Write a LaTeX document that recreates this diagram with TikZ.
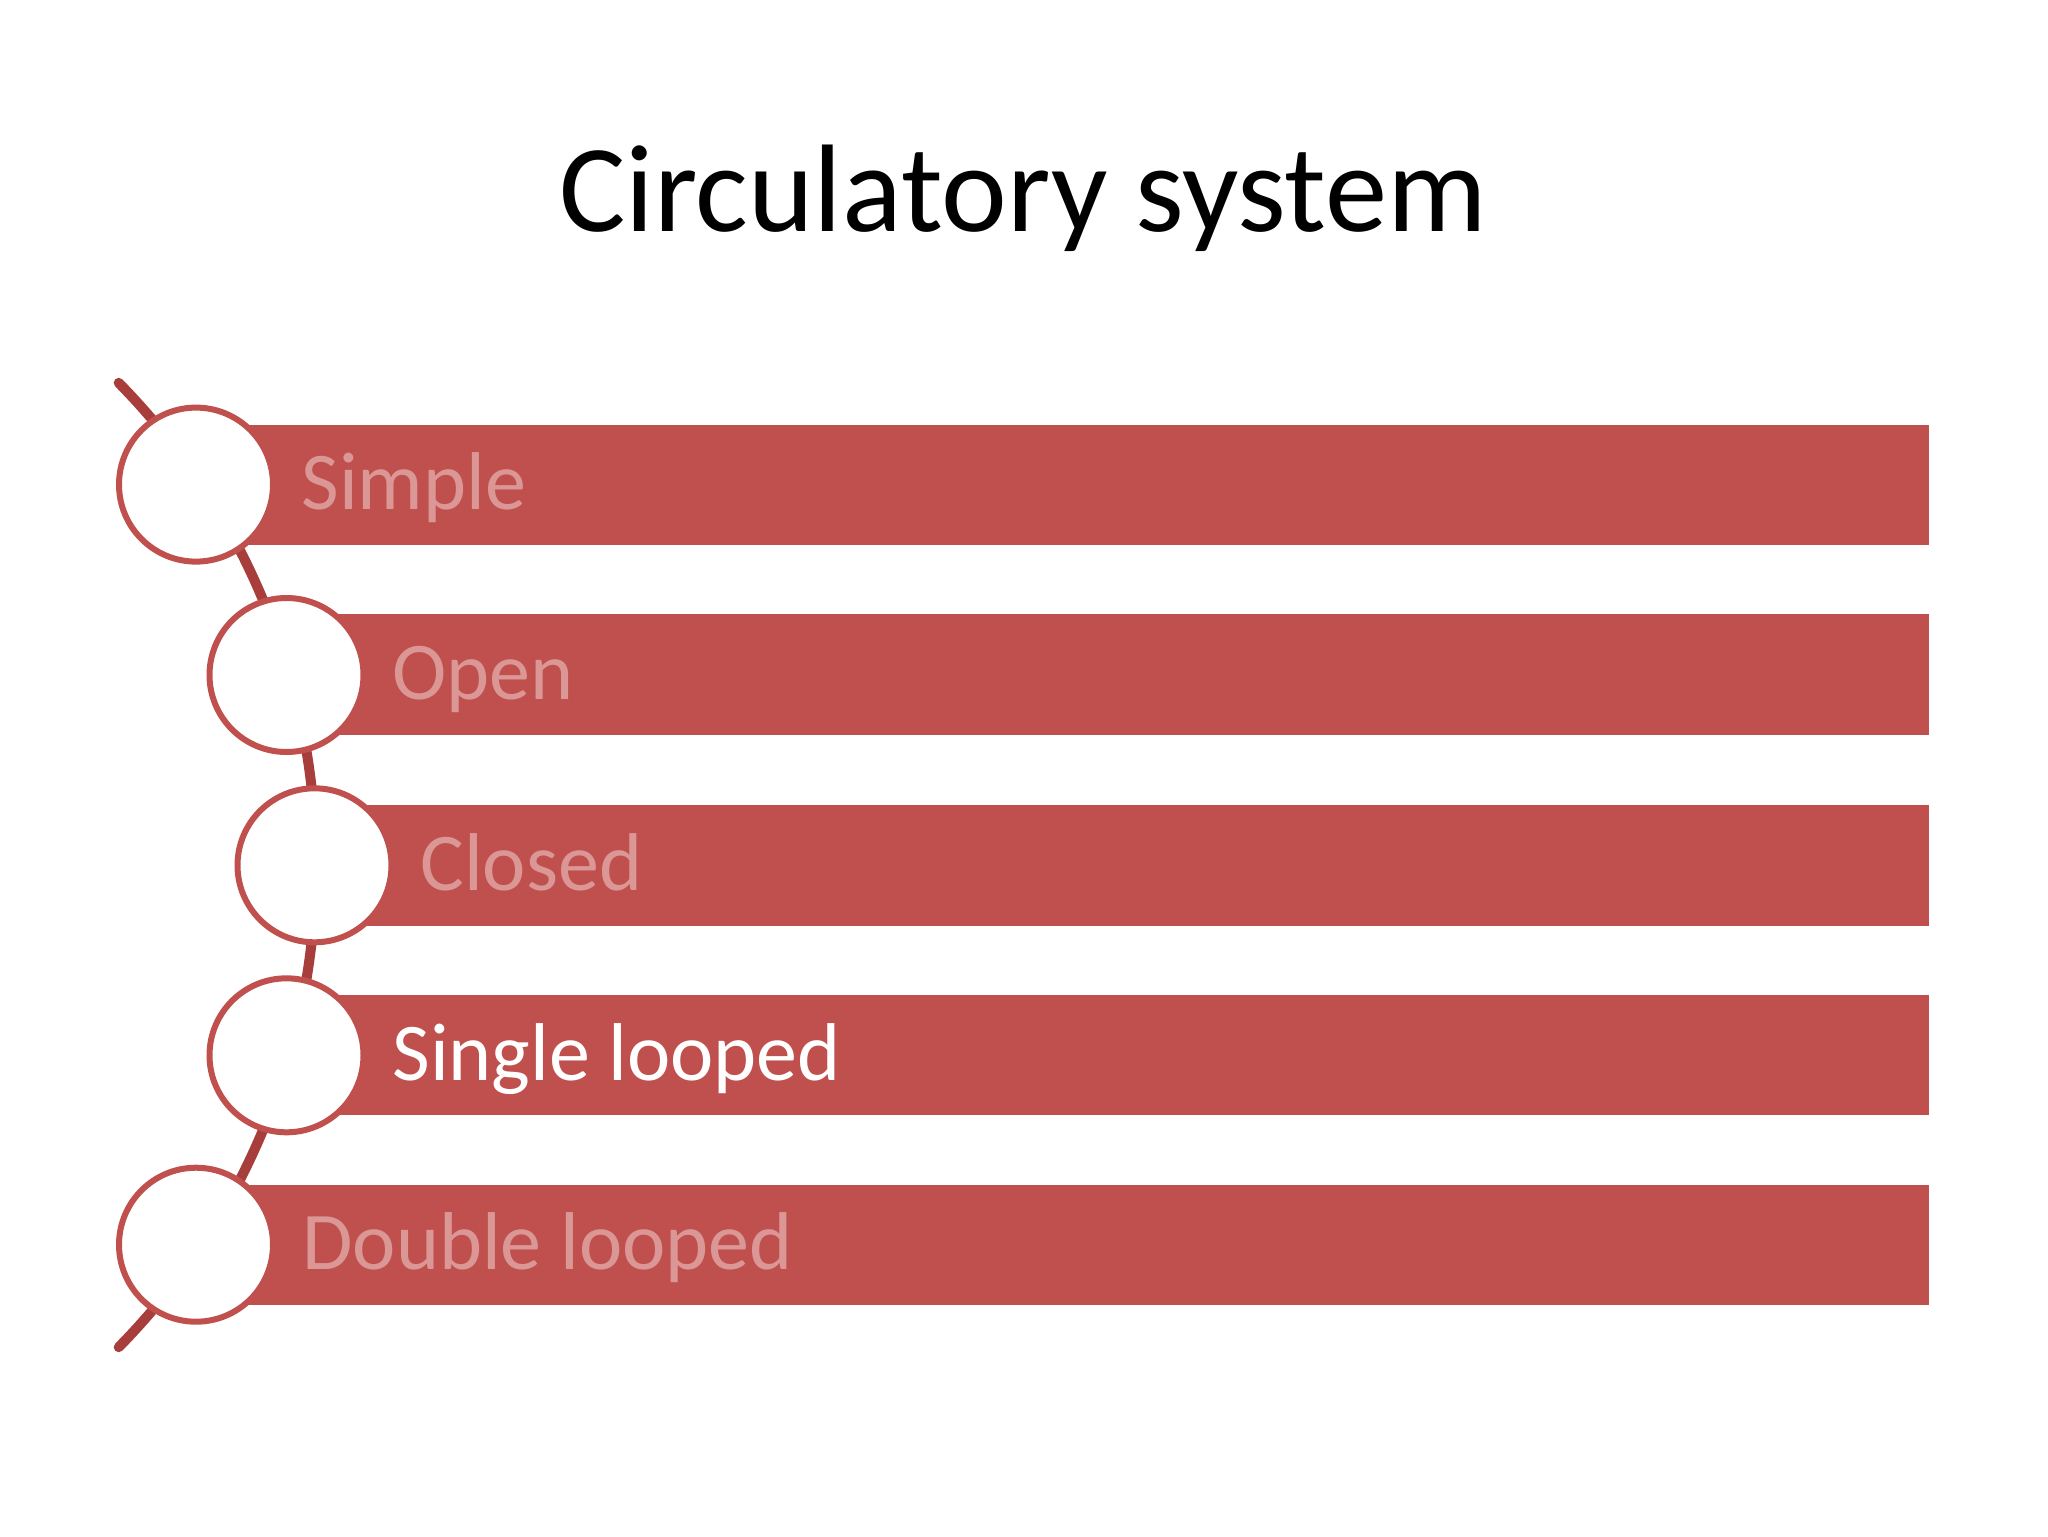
\documentclass[tikz,border=0pt]{standalone}
\usepackage{fontspec}
\setmainfont{Carlito}
\definecolor{barred}{HTML}{C0504D}
\definecolor{arcred}{HTML}{A83E3B}
\definecolor{pinktext}{HTML}{DB9795}
\begin{document}
\begin{tikzpicture}[x=0.5pt,y=0.5pt,
  bar/.style={fill=barred},
  ring/.style={circle, draw=barred, fill=white, line width=3pt, minimum size=77pt, inner sep=0pt},
  lbl/.style={anchor=base west, font=\fontsize{41pt}{49pt}\selectfont, text=pinktext, inner sep=0pt},
  ttl/.style={anchor=base, font=\fontsize{62.3pt}{74pt}\selectfont, text=black, inner sep=0pt}]
\useasboundingbox[fill=white] (0,0) rectangle (2048,-1536);
% title
\node[ttl] (title) at (1023,-231) {Circulatory system};
% arc
\draw[arcred, line width=5pt, line cap=round] (-372,-865) ++(44.5:688) arc[start angle=44.5, end angle=-44.5, radius=688];
% bars
\fill[bar] (197,-424.5) rectangle (1929,-544.6);
\fill[bar] (287,-614) rectangle (1929,-735.3);
\fill[bar] (315,-804.6) rectangle (1929,-926);
\fill[bar] (287,-995.2) rectangle (1929,-1115.4);
\fill[bar] (197,-1184.6) rectangle (1929,-1304.8);
% circles
\node[ring] (c1) at (196,-484.6) {};
\node[ring] (c2) at (286.5,-675) {};
\node[ring] (c3) at (314.5,-865.3) {};
\node[ring] (c4) at (286.5,-1055.3) {};
\node[ring] (c5) at (196,-1244.7) {};
% labels
\node[lbl] (t1) at (301,-509.5) {Simple};
\node[lbl] (t2) at (392,-699.5) {Open};
\node[lbl] (t3) at (420,-890) {Closed};
\node[lbl, text=white] (t4) at (392,-1080) {Single looped};
\node[lbl] (t5) at (302,-1269.5) {Double looped};
\end{tikzpicture}
\end{document}
